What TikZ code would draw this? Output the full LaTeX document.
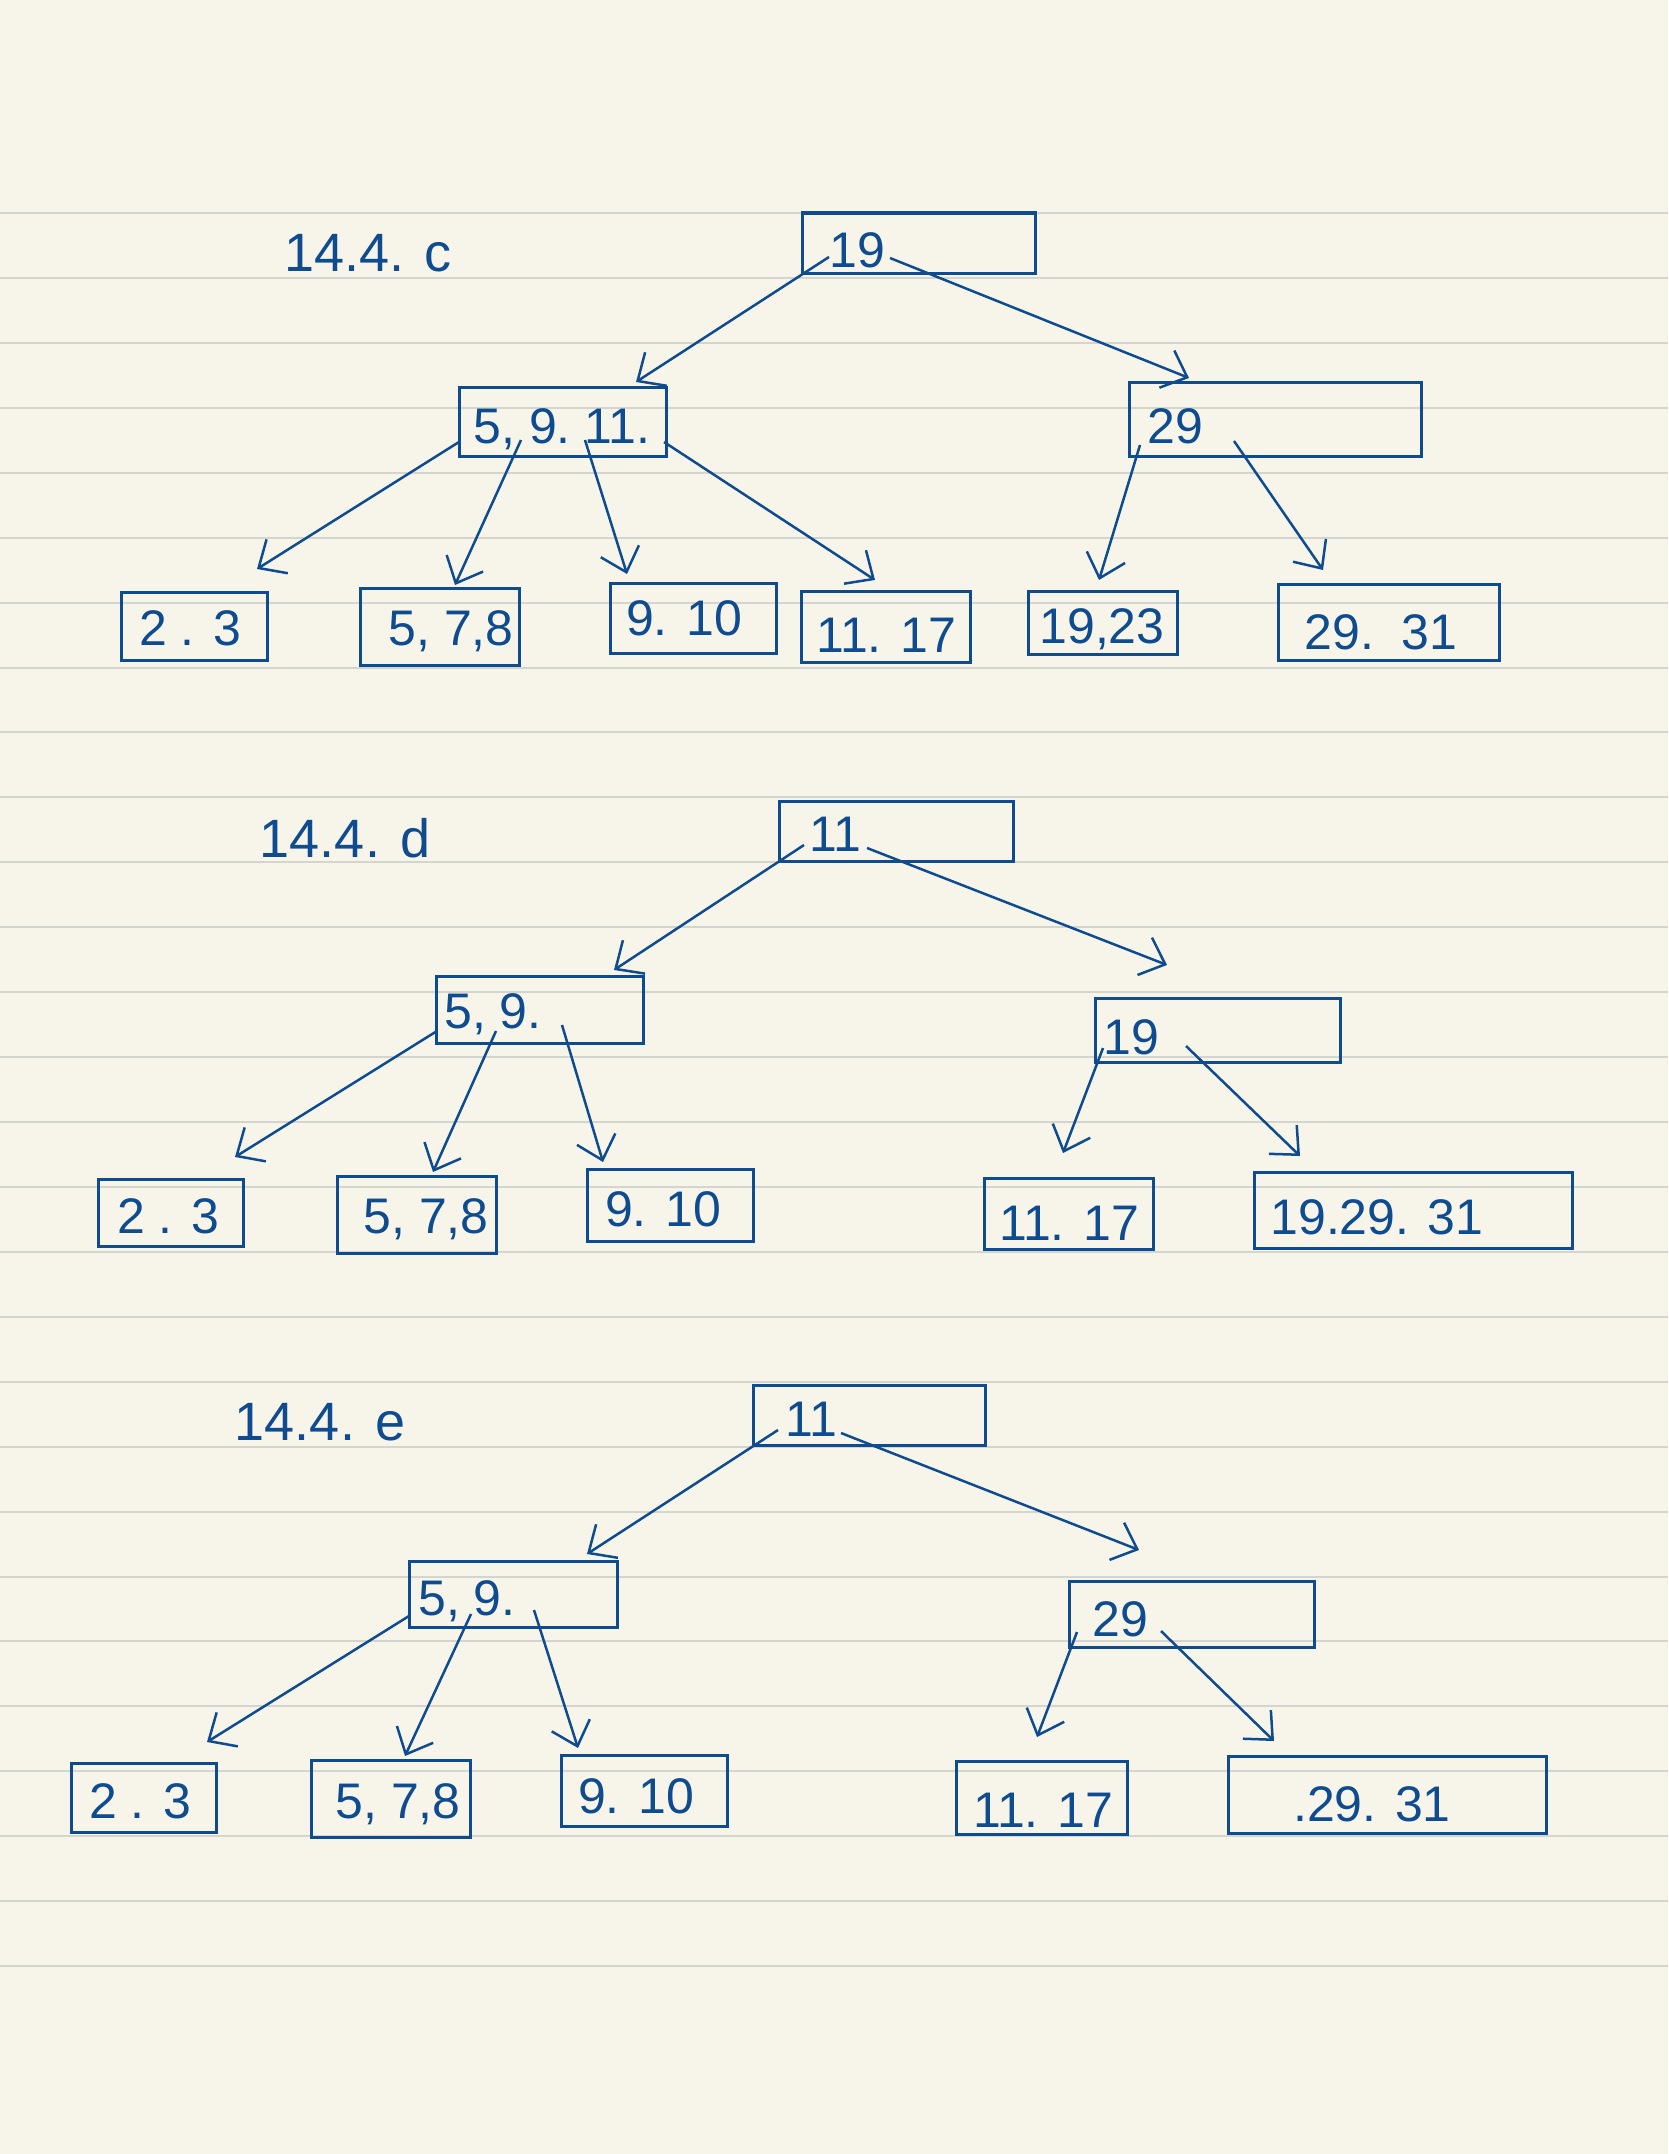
\documentclass[tikz,border=0pt]{standalone}
\usepackage{fontspec}
\setmainfont{Liberation Sans}
\usetikzlibrary{arrows.meta}
\definecolor{paper}{HTML}{F7F5EA}
\definecolor{rule}{HTML}{D5D5D0}
\definecolor{ink}{HTML}{0F4B8F}
\tikzset{
  box/.style={draw=ink, line width=3pt, inner sep=0pt, outer sep=0pt},
  lbl/.style={text=ink, font=\fontsize{50}{50}\selectfont, inner sep=0pt},
  ttl/.style={text=ink, font=\fontsize{54}{54}\selectfont, inner sep=0pt},
  arr/.style={draw=ink, line width=2.5pt, -{Straight Barb[length=22pt,width=40pt,line width=2.5pt]}}
}
\begin{document}
\begin{tikzpicture}[x=1pt,y=-1pt]
\fill[paper] (0,0) rectangle (1668,2154);
\useasboundingbox (0,0) rectangle (1668,2154);
\foreach \k in {0,...,27} {
  \draw[rule, line width=2pt] (0,{213+\k*64.93}) -- (1668,{213+\k*64.93});
}

% ---------- 14.4.c ----------
\node[ttl] (tC) at (368,253) {14.4. c};
\node[box, minimum width=233pt, minimum height=60pt] (rootC) at (918.5,243) {};
\node[box, minimum width=207pt, minimum height=69pt] (leftC) at (562.5,421.5) {};
\node[box, minimum width=292pt, minimum height=74pt] (rightC) at (1275,419) {};
\node[box, minimum width=146pt, minimum height=68pt] (c1) at (194,626) {};
\node[box, minimum width=159pt, minimum height=77pt] (c2) at (439.5,626.5) {};
\node[box, minimum width=166pt, minimum height=70pt] (c3) at (693,618) {};
\node[box, minimum width=169pt, minimum height=71pt] (c4) at (885.5,626.5) {};
\node[box, minimum width=149pt, minimum height=63pt] (c5) at (1102.5,622.5) {};
\node[box, minimum width=221pt, minimum height=76pt] (c6) at (1388.5,622) {};
\node[lbl] (rootCt) at (857,250) {19};
\node[lbl] (leftCt) at (562,429) {5,\ 9.\ 11.};
\node[lbl] (rightCt) at (1175,426) {29};
\node[lbl] (c1t) at (190,628) {2 . 3};
\node[lbl] (c2t) at (451,631) {5, 7,8};
\node[lbl] (c3t) at (684,618) {9. 10};
\node[lbl] (c4t) at (886,635) {11. 17};
\node[lbl] (c5t) at (1102,629) {19,23};
\node[lbl] (c6t) at (1381,632) {29.\ \ 31};
\coordinate (rootC-a) at (829,257); \coordinate (leftC-in) at (636,382);
\coordinate (rootC-b) at (890,258); \coordinate (rightC-in) at (1189,378);
\coordinate (leftC-a) at (459,442); \coordinate (c1-in) at (257,569);
\coordinate (leftC-b) at (521,440); \coordinate (c2-in) at (455,585);
\coordinate (leftC-c) at (585,440); \coordinate (c3-in) at (627,574);
\coordinate (leftC-d) at (664,442); \coordinate (c4-in) at (875,580);
\coordinate (rightC-a) at (1140,445); \coordinate (c5-in) at (1099,580);
\coordinate (rightC-b) at (1234,441); \coordinate (c6-in) at (1323,570);
\draw[arr] (rootC-a) -- (leftC-in);
\draw[arr] (rootC-b) -- (rightC-in);
\draw[arr] (leftC-a) -- (c1-in);
\draw[arr] (leftC-b) -- (c2-in);
\draw[arr] (leftC-c) -- (c3-in);
\draw[arr] (leftC-d) -- (c4-in);
\draw[arr] (rightC-a) -- (c5-in);
\draw[arr] (rightC-b) -- (c6-in);

% ---------- 14.4.d ----------
\node[ttl] (tD) at (345,838) {14.4. d};
\node[box, minimum width=234pt, minimum height=60pt] (rootD) at (896,831) {};
\node[box, minimum width=207pt, minimum height=67pt] (leftD) at (539.5,1009.5) {};
\node[box, minimum width=245pt, minimum height=64pt] (rightD) at (1217.5,1030) {};
\node[box, minimum width=145pt, minimum height=67pt] (d1) at (170.5,1212.5) {};
\node[box, minimum width=159pt, minimum height=77pt] (d2) at (416.5,1214.5) {};
\node[box, minimum width=166pt, minimum height=72pt] (d3) at (670,1205) {};
\node[box, minimum width=169pt, minimum height=71pt] (d4) at (1068.5,1213.5) {};
\node[box, minimum width=318pt, minimum height=76pt] (d5) at (1413,1210) {};
\node[lbl] (rootDt) at (835,834) {11};
\node[lbl] (leftDt) at (493,1014) {5, 9.};
\node[lbl] (rightDt) at (1131,1037) {19};
\node[lbl] (d1t) at (168,1216) {2 . 3};
\node[lbl] (d2t) at (426,1219) {5, 7,8};
\node[lbl] (d3t) at (663,1209) {9. 10};
\node[lbl] (d4t) at (1069,1223) {11. 17};
\node[lbl] (d5t) at (1377,1217) {19.29. 31};
\coordinate (rootD-a) at (804,845); \coordinate (leftD-in) at (614,970);
\coordinate (rootD-b) at (867,848); \coordinate (rightD-in) at (1167,965);
\coordinate (leftD-a) at (437,1031); \coordinate (d1-in) at (235,1157);
\coordinate (leftD-b) at (496,1031); \coordinate (d2-in) at (433,1172);
\coordinate (leftD-c) at (562,1025); \coordinate (d3-in) at (603,1162);
\coordinate (rightD-a) at (1103,1048); \coordinate (d4-in) at (1063,1153);
\coordinate (rightD-b) at (1186,1046); \coordinate (d5-in) at (1300,1156);
\draw[arr] (rootD-a) -- (leftD-in);
\draw[arr] (rootD-b) -- (rightD-in);
\draw[arr] (leftD-a) -- (d1-in);
\draw[arr] (leftD-b) -- (d2-in);
\draw[arr] (leftD-c) -- (d3-in);
\draw[arr] (rightD-a) -- (d4-in);
\draw[arr] (rightD-b) -- (d5-in);

% ---------- 14.4.e ----------
\node[ttl] (tE) at (320,1422) {14.4. e};
\node[box, minimum width=232pt, minimum height=60pt] (rootE) at (869,1415) {};
\node[box, minimum width=208pt, minimum height=66pt] (leftE) at (513,1594) {};
\node[box, minimum width=245pt, minimum height=66pt] (rightE) at (1191.5,1614) {};
\node[box, minimum width=145pt, minimum height=69pt] (e1) at (143.5,1797.5) {};
\node[box, minimum width=159pt, minimum height=77pt] (e2) at (390.5,1798.5) {};
\node[box, minimum width=166pt, minimum height=71pt] (e3) at (644,1790.5) {};
\node[box, minimum width=171pt, minimum height=73pt] (e4) at (1041.5,1797.5) {};
\node[box, minimum width=318pt, minimum height=77pt] (e5) at (1387,1794.5) {};
\node[lbl] (rootEt) at (811,1419) {11};
\node[lbl] (leftEt) at (467,1601) {5, 9.};
\node[lbl] (rightEt) at (1120,1619) {29};
\node[lbl] (e1t) at (140,1801) {2 . 3};
\node[lbl] (e2t) at (398,1804) {5, 7,8};
\node[lbl] (e3t) at (636,1796) {9. 10};
\node[lbl] (e4t) at (1043,1810) {11. 17};
\node[lbl] (e5t) at (1372,1804) {.29. 31};
\coordinate (rootE-a) at (778,1430); \coordinate (leftE-in) at (587,1554);
\coordinate (rootE-b) at (841,1433); \coordinate (rightE-in) at (1139,1550);
\coordinate (leftE-a) at (409,1616); \coordinate (e1-in) at (207,1742);
\coordinate (leftE-b) at (471,1614); \coordinate (e2-in) at (405,1756);
\coordinate (leftE-c) at (534,1610); \coordinate (e3-in) at (578,1748);
\coordinate (rightE-a) at (1077,1632); \coordinate (e4-in) at (1037,1737);
\coordinate (rightE-b) at (1161,1631); \coordinate (e5-in) at (1274,1741);
\draw[arr] (rootE-a) -- (leftE-in);
\draw[arr] (rootE-b) -- (rightE-in);
\draw[arr] (leftE-a) -- (e1-in);
\draw[arr] (leftE-b) -- (e2-in);
\draw[arr] (leftE-c) -- (e3-in);
\draw[arr] (rightE-a) -- (e4-in);
\draw[arr] (rightE-b) -- (e5-in);
\end{tikzpicture}
\end{document}
